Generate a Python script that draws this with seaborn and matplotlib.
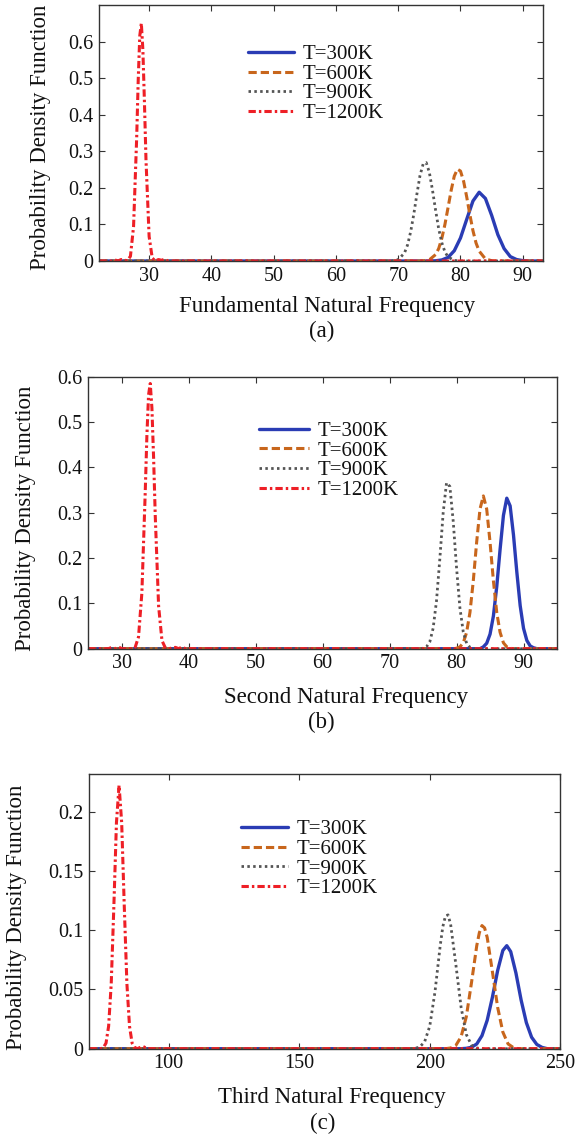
import matplotlib
matplotlib.use("Agg")
import matplotlib.pyplot as plt
import seaborn as sns
import pandas as pd

# ---------------- data ----------------
labels = ["T=300K", "T=600K", "T=900K", "T=1200K"]

# panel (a) Fundamental natural frequency
a_x_300 = [22, 75, 76, 77, 78, 79, 80, 81, 82, 83, 84, 85, 86, 87, 88, 89, 90, 91, 93.2]
a_y_300 = [0, 0, 0.0006, 0.0028, 0.0098, 0.028, 0.063, 0.114, 0.164, 0.188, 0.171, 0.125, 0.072, 0.034, 0.012, 0.004, 0.001, 0, 0]
a_x_600 = [22, 73, 74, 75, 76, 76.5, 77, 77.5, 78, 78.5, 79, 79.5, 80, 80.5, 81, 81.5, 82, 82.5, 83, 84, 85, 86, 93.2]
a_y_600 = [0, 0, 0.0004, 0.0033, 0.0175, 0.034, 0.062, 0.100, 0.146, 0.193, 0.232, 0.251, 0.246, 0.218, 0.175, 0.127, 0.083, 0.049, 0.027, 0.0057, 0.0008, 0, 0]
a_x_900 = [22, 68, 69, 70, 71, 71.5, 72, 72.5, 73, 73.5, 74, 74.5, 75, 75.5, 76, 76.5, 77, 77.5, 78, 79, 80, 93.2]
a_y_900 = [0, 0, 0.0004, 0.0037, 0.0218, 0.044, 0.080, 0.128, 0.183, 0.234, 0.265, 0.269, 0.242, 0.194, 0.139, 0.088, 0.050, 0.025, 0.011, 0.0016, 0, 0]
a_x_1200 = [22, 24, 24.5, 25, 25.5, 26, 26.5, 27, 27.5, 28, 28.25, 28.5, 28.75, 29, 29.25, 29.5, 30, 30.5, 31, 31.5, 32, 32.5, 33, 93.2]
a_y_1200 = [0, 0, 0.003, 0, 0.004, 0.002, 0.001, 0.013, 0.094, 0.336, 0.495, 0.616, 0.650, 0.576, 0.433, 0.275, 0.067, 0.008, 0, 0.004, 0.002, 0.005, 0, 0]

# panel (b) Second natural frequency
b_x_300 = [25, 83.5, 84, 84.5, 85, 85.5, 86, 86.5, 87, 87.5, 88, 88.5, 89, 89.5, 90, 90.5, 91, 91.5, 92, 95]
b_y_300 = [0, 0, 0.004, 0.012, 0.032, 0.072, 0.137, 0.219, 0.294, 0.332, 0.315, 0.251, 0.169, 0.095, 0.045, 0.018, 0.006, 0.002, 0, 0]
b_x_600 = [25, 79.5, 80, 80.5, 81, 81.5, 82, 82.5, 83, 83.5, 84, 84.5, 85, 85.5, 86, 86.5, 87, 87.5, 88, 88.5, 95]
b_y_600 = [0, 0, 0.001, 0.004, 0.013, 0.036, 0.080, 0.150, 0.235, 0.308, 0.337, 0.308, 0.235, 0.150, 0.080, 0.036, 0.013, 0.004, 0.001, 0, 0]
b_x_900 = [25, 74.5, 75, 75.5, 76, 76.5, 77, 77.5, 78, 78.5, 79, 79.5, 80, 80.5, 81, 81.5, 82, 82.5, 95]
b_y_900 = [0, 0, 0.001, 0.004, 0.015, 0.045, 0.105, 0.198, 0.300, 0.366, 0.358, 0.281, 0.178, 0.090, 0.037, 0.012, 0.003, 0, 0]
b_x_1200 = [25, 28, 28.5, 29, 29.5, 30, 31.5, 32, 32.5, 33, 33.5, 33.75, 34, 34.25, 34.5, 34.75, 35, 35.5, 36, 36.5, 37, 38, 38.5, 39, 39.5, 95]
b_y_1200 = [0, 0, 0.003, 0, 0.004, 0, 0.0002, 0.003, 0.026, 0.123, 0.344, 0.470, 0.560, 0.585, 0.531, 0.422, 0.293, 0.094, 0.018, 0.002, 0, 0.003, 0, 0.004, 0, 0]

# panel (c) Third natural frequency
c_x_300 = [69.6, 212, 214, 216, 218, 220, 222, 224, 226, 228, 229.5, 231, 233, 235, 237, 239, 241, 243, 245, 250]
c_y_300 = [0, 0, 0.0003, 0.0012, 0.004, 0.011, 0.024, 0.0435, 0.066, 0.083, 0.087, 0.082, 0.064, 0.041, 0.022, 0.0097, 0.0036, 0.0011, 0, 0]
c_x_600 = [69.6, 206, 208, 210, 212, 214, 216, 218, 219, 220, 221, 222, 224, 226, 228, 230, 232, 234, 250]
c_y_600 = [0, 0, 0.0006, 0.0028, 0.010, 0.027, 0.056, 0.087, 0.098, 0.104, 0.102, 0.094, 0.065, 0.035, 0.014, 0.004, 0.001, 0, 0]
c_x_900 = [69.6, 192, 194, 196, 198, 200, 202, 204, 205, 206, 207, 208, 210, 212, 214, 216, 218, 220, 250]
c_y_900 = [0, 0, 0.0002, 0.0012, 0.0056, 0.019, 0.048, 0.087, 0.103, 0.112, 0.113, 0.105, 0.071, 0.035, 0.012, 0.003, 0.0006, 0, 0]
c_x_1200 = [69.6, 74, 75, 76, 77, 78, 79, 80, 81, 82, 83, 84, 85, 86, 87, 88, 90, 92, 250]
c_y_1200 = [0, 0, 0.001, 0.0047, 0.019, 0.055, 0.120, 0.191, 0.2225, 0.191, 0.120, 0.055, 0.019, 0.0047, 0.001, 0, 0.002, 0, 0]

xlabels = ["Fundamental Natural Frequency", "Second Natural Frequency", "Third Natural Frequency"]
captions = ["(a)", "(b)", "(c)"]
xticks_all = [[30, 40, 50, 60, 70, 80, 90], [30, 40, 50, 60, 70, 80, 90], [100, 150, 200, 250]]
yticks_all = [[0, 0.1, 0.2, 0.3, 0.4, 0.5, 0.6], [0, 0.1, 0.2, 0.3, 0.4, 0.5, 0.6], [0, 0.05, 0.1, 0.15, 0.2]]
ytick_labels_all = [["0", "0.1", "0.2", "0.3", "0.4", "0.5", "0.6"],
                    ["0", "0.1", "0.2", "0.3", "0.4", "0.5", "0.6"],
                    ["0", "0.05", "0.1", "0.15", "0.2"]]

# ---------------- style ----------------
sns.set_theme(style="white")
plt.rcParams["font.family"] = ["Liberation Serif", "DejaVu Serif"]
plt.rcParams["axes.edgecolor"] = "#333333"
plt.rcParams["axes.linewidth"] = 1.0

colors = ["#2a3cb4", "#c8661c", "#555555", "#ee1f26"]
styles = ["-", (0, (2.7, 1.3)), (0, (0.9, 1.2)), (0, (2.4, 1.0, 0.8, 1.0))]
widths = [2.4, 2.2, 2.0, 2.2]

W, H = 581, 1138
fig = plt.figure(figsize=(W / 100, H / 100), dpi=100)


def px_axes(left, right, top, bottom):
    return fig.add_axes([left / W, 1 - bottom / H, (right - left) / W, (bottom - top) / H])


panels = [
    dict(box=(99.3, 542.7, 5, 261), xlim=(22, 93.2), ylim=(0, 0.70),
         data=[(a_x_300, a_y_300), (a_x_600, a_y_600), (a_x_900, a_y_900), (a_x_1200, a_y_1200)],
         leg=(0.336, 0.845), hl=2.2, xl=(0.513, -0.198), yl=(-0.132, 0.485), cap=(321.7, 331)),
    dict(box=(88.3, 557, 376.7, 648.7), xlim=(25, 95), ylim=(0, 0.6),
         data=[(b_x_300, b_y_300), (b_x_600, b_y_600), (b_x_900, b_y_900), (b_x_1200, b_y_1200)],
         leg=(0.364, 0.835), hl=2.4, xl=(0.551, -0.200), yl=(-0.133, 0.481), cap=(321.7, 722)),
    dict(box=(89.3, 560.3, 774, 1048.7), xlim=(69.6, 250), ylim=(0, 0.232),
         data=[(c_x_300, c_y_300), (c_x_600, c_y_600), (c_x_900, c_y_900), (c_x_1200, c_y_1200)],
         leg=(0.323, 0.833), hl=2.25, xl=(0.515, -0.199), yl=(-0.155, 0.479), cap=(322.4, 1123)),
]

for i, p in enumerate(panels):
    ax = px_axes(*p["box"])
    handles = []
    for k, (xs, ys) in enumerate(p["data"]):
        df = pd.DataFrame({"f": xs, "pdf": ys})
        sns.lineplot(data=df, x="f", y="pdf", ax=ax, estimator=None, sort=False,
                     color=colors[k], linestyle=styles[k], linewidth=widths[k])
        handles.append(ax.get_lines()[-1])
    ax.set_xlim(*p["xlim"])
    ax.set_ylim(*p["ylim"])
    ax.set_xticks(xticks_all[i])
    ax.set_xticklabels([str(t) for t in xticks_all[i]])
    ax.set_yticks(yticks_all[i])
    ax.set_yticklabels(ytick_labels_all[i])
    ax.tick_params(direction="in", length=4.5, width=0.8, color="#333333",
                   top=True, right=True, bottom=True, left=True,
                   labelsize=14.5, labelcolor="#111111", pad=4)
    ax.set_xlabel(xlabels[i], fontsize=16.5, color="#111111", va="baseline")
    ax.xaxis.set_label_coords(*p["xl"])
    ax.set_ylabel("Probability Density Function", fontsize=16.5, color="#111111", va="center")
    ax.yaxis.set_label_coords(*p["yl"])
    for s in ax.spines.values():
        s.set_visible(True)
    leg = ax.legend(handles, labels, loc="upper left", bbox_to_anchor=p["leg"],
                    frameon=False, fontsize=15, handlelength=p["hl"], handletextpad=0.42,
                    labelspacing=0.0, borderpad=0, borderaxespad=0)
    for t in leg.get_texts():
        t.set_color("#111111")
    fig.text(p["cap"][0] / W, 1 - p["cap"][1] / H, captions[i], ha="center", va="center",
             fontsize=16.5, color="#111111")

fig.savefig("out.png", dpi=100)
